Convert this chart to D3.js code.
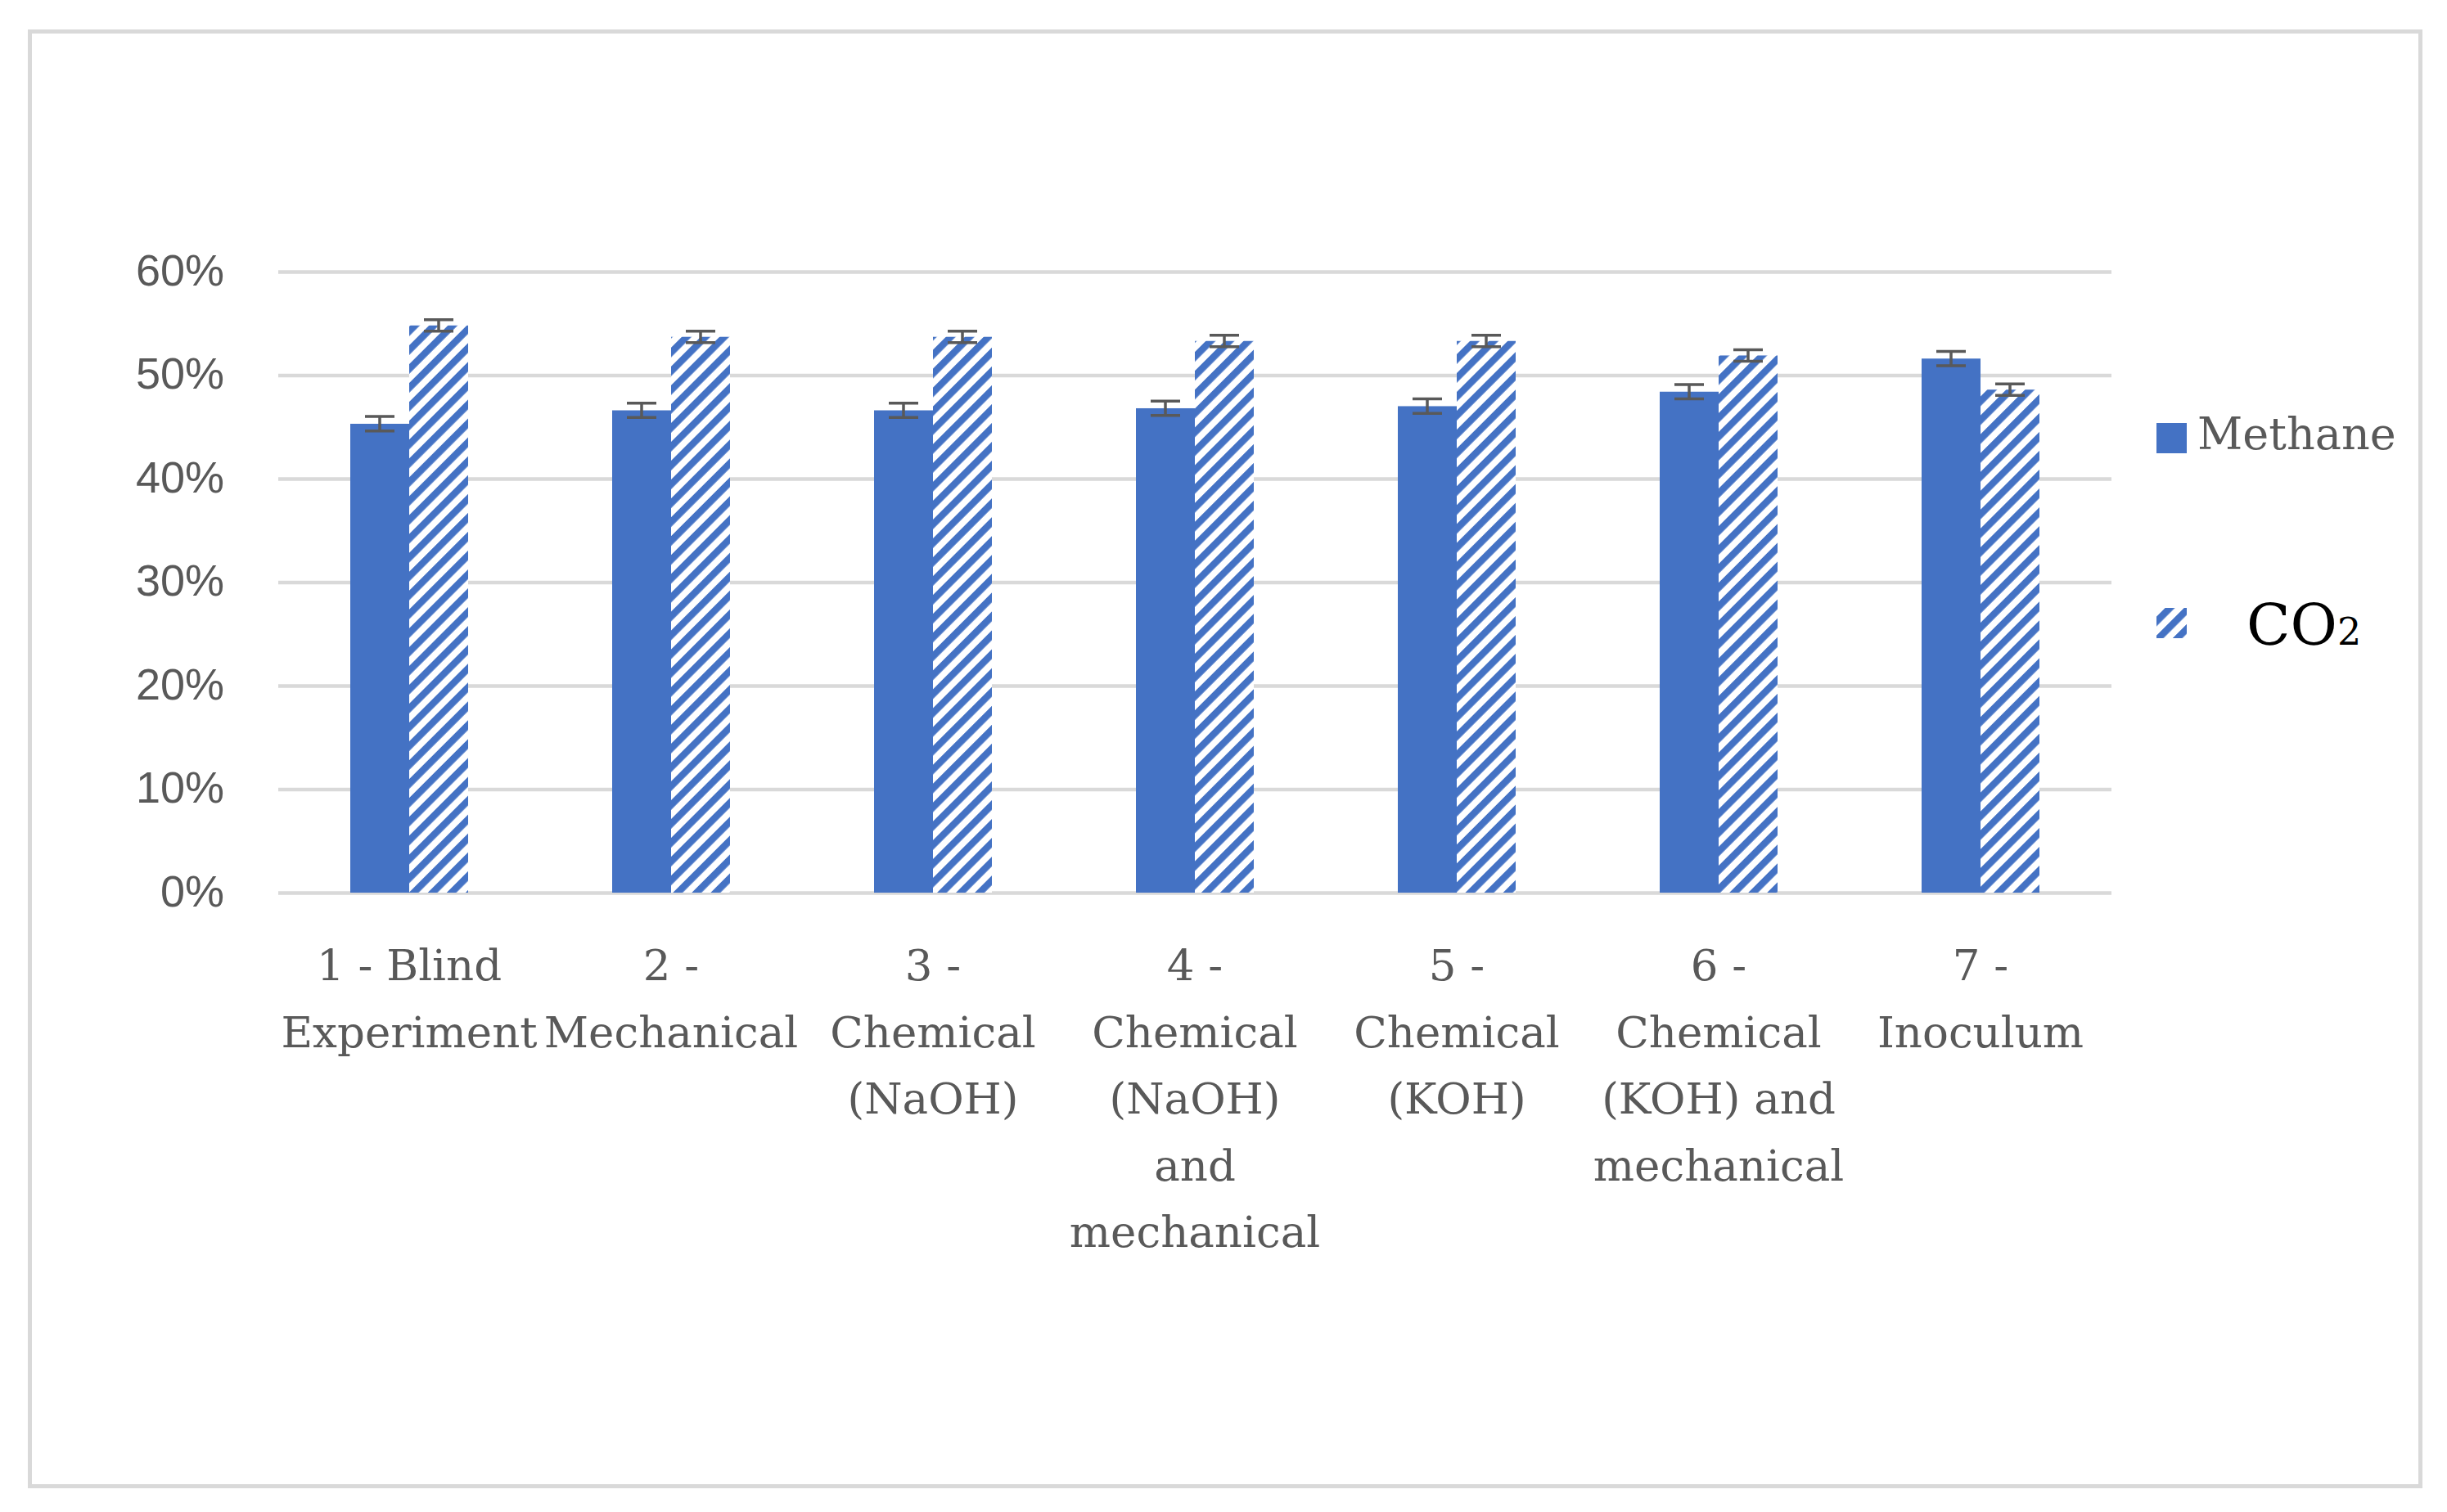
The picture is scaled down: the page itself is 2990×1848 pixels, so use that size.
<!DOCTYPE html>
<html>
<head>
<meta charset="utf-8">
<script src="https://cdn.jsdelivr.net/npm/d3@7"></script>
<style>
  body { margin: 0; background: #fff; }
  svg { display: block; }
</style>
</head>
<body>
<div class="chart"></div>
<script>
// data (percent)
const categories = ['1', '2', '3', '4', '5', '6', '7'];
const catLabels = [
  ['1 - Blind', 'Experiment'],
  ['2 -', 'Mechanical'],
  ['3 -', 'Chemical', '(NaOH)'],
  ['4 -', 'Chemical', '(NaOH)', 'and', 'mechanical'],
  ['5 -', 'Chemical', '(KOH)'],
  ['6 -', 'Chemical', '(KOH) and', 'mechanical'],
  ['7 -', 'Inoculum']
];
const methane = [45.3, 46.6, 46.6, 46.8, 47.0, 48.4, 51.6];
const methaneErr = [0.7, 0.7, 0.7, 0.7, 0.7, 0.7, 0.7];
const co2 = [54.8, 53.7, 53.7, 53.3, 53.3, 51.9, 48.6];
const co2Err = [0.55, 0.55, 0.55, 0.55, 0.55, 0.55, 0.55];
const yTicks = [0, 0.1, 0.2, 0.3, 0.4, 0.5, 0.6];

const W = 2990, H = 1848;
const plot = {left: 340, right: 2580, top: 332, bottom: 1091};
const blue = '#4472c4';
const grey = '#595959';

const svg = d3.select('.chart')
  .append('svg')
  .attr('width', W)
  .attr('height', H);

// hatch for CO2
const defs = svg.append('defs');
const pat = defs.append('pattern')
  .attr('id', 'hatch')
  .attr('patternUnits', 'userSpaceOnUse')
  .attr('width', 16.3)
  .attr('height', 16.3)
  .attr('patternTransform', 'rotate(45)');
pat.append('rect').attr('width', 16.3).attr('height', 16.3).attr('fill', '#fff');
pat.append('rect').attr('width', 8.4).attr('height', 16.3).attr('fill', blue);

// outer frame
svg.append('rect')
  .attr('x', 36.5).attr('y', 38.5)
  .attr('width', 2921).attr('height', 1778)
  .attr('fill', '#fff')
  .attr('stroke', '#d9d9d9')
  .attr('stroke-width', 5);

//scales
const x = d3.scaleBand()
  .domain(categories)
  .range([plot.left, plot.right]);

const y = d3.scaleLinear()
  .domain([0, 0.6])
  .range([plot.bottom, plot.top]);

const barW = 72;

// y axis + gridlines
const yAxis = svg.append('g')
  .attr('transform', `translate(${plot.left},0)`)
  .call(d3.axisLeft(y)
    .tickValues(yTicks)
    .tickFormat(d3.format('.0%'))
    .tickSize(-(plot.right - plot.left))
    .tickPadding(66));
yAxis.select('.domain').remove();
yAxis.selectAll('line').attr('stroke', '#d9d9d9').attr('stroke-width', 4.5);
yAxis.selectAll('text')
  .attr('fill', grey)
  .style('font-family', '"Liberation Sans", Arial, sans-serif')
  .style('font-size', '54px')
  .attr('dy', '0.3em');

// x axis labels
const xAxis = svg.append('g')
  .attr('transform', `translate(0,${plot.bottom})`)
  .call(d3.axisBottom(x).tickSize(0).tickFormat(''));
xAxis.select('.domain').remove();
xAxis.selectAll('.tick text')
  .attr('y', 0).attr('dy', null)
  .attr('fill', grey)
  .style('font-family', '"DejaVu Serif", serif')
  .style('font-size', '53px')
  .each(function(d, i) {
    d3.select(this).selectAll('tspan')
      .data(catLabels[i])
      .enter()
      .append('tspan')
      .attr('x', 0)
      .attr('y', (t, j) => 107 + j * 81.5)
      .text(t => t);
  });

// bars
const bars = svg.append('g');
bars.selectAll('.methane')
  .data(methane)
  .enter()
  .append('rect')
  .attr('class', 'methane')
  .attr('x', (d, i) => x(categories[i]) + x.bandwidth() / 2 - barW)
  .attr('y', d => y(d / 100))
  .attr('width', barW)
  .attr('height', d => y(0) - y(d / 100))
  .attr('fill', blue);

bars.selectAll('.co2')
  .data(co2)
  .enter()
  .append('rect')
  .attr('class', 'co2')
  .attr('x', (d, i) => x(categories[i]) + x.bandwidth() / 2)
  .attr('y', d => y(d / 100))
  .attr('width', barW)
  .attr('height', d => y(0) - y(d / 100))
  .attr('fill', 'url(#hatch)');

// error bars
function errorBars(vals, errs, offset) {
  const g = svg.append('g')
    .attr('stroke', grey)
    .attr('stroke-width', 3.5);
  vals.forEach((v, i) => {
    const cx = x(categories[i]) + x.bandwidth() / 2 + offset;
    const y0 = y((v - errs[i]) / 100), y1 = y((v + errs[i]) / 100);
    g.append('line').attr('x1', cx).attr('x2', cx).attr('y1', y0).attr('y2', y1);
    g.append('line').attr('x1', cx - 18).attr('x2', cx + 18).attr('y1', y0).attr('y2', y0);
    g.append('line').attr('x1', cx - 18).attr('x2', cx + 18).attr('y1', y1).attr('y2', y1);
  });
}
errorBars(methane, methaneErr, -barW / 2);
errorBars(co2, co2Err, barW / 2);

// legend
const legend = svg.append('g');
legend.append('rect')
  .attr('x', 2635).attr('y', 517).attr('width', 37).attr('height', 37)
  .attr('fill', blue);
legend.append('text')
  .attr('x', 2685).attr('y', 549)
  .attr('fill', grey)
  .style('font-family', '"DejaVu Serif", serif')
  .style('font-size', '54px')
  .text('Methane');

legend.append('rect')
  .attr('x', 2635).attr('y', 743).attr('width', 37).attr('height', 37)
  .attr('fill', 'url(#hatch)');
const co2Text = legend.append('text')
  .attr('x', 2745).attr('y', 788)
  .attr('fill', '#000')
  .style('font-family', '"DejaVu Serif", serif')
  .style('font-size', '70px');
co2Text.append('tspan').text('CO');
co2Text.append('tspan').style('font-size', '46px').text('2');
</script>
</body>
</html>
